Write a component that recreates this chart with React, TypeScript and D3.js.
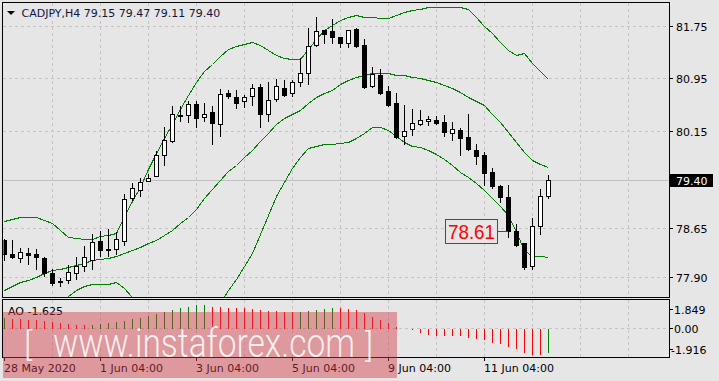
import React from 'react';
import * as d3 from 'd3';

// ---- Candles (CADJPY, H4) ----
const opens = [78.47, 78.26, 78.20, 78.27, 78.25, 78.19, 77.96, 77.84, 77.86, 77.97, 78.07, 78.16, 78.46, 78.33, 78.33, 78.46, 79.11, 79.24, 79.38, 79.46, 79.77, 79.99, 80.39, 80.39, 80.56, 80.36, 80.43, 80.25, 80.72, 80.66, 80.61, 80.68, 80.82, 80.40, 80.63, 80.81, 80.72, 80.89, 81.03, 81.46, 81.69, 81.68, 81.58, 81.49, 81.71, 81.46, 80.83, 81.01, 80.76, 80.57, 80.06, 80.17, 80.25, 80.30, 80.32, 80.28, 80.11, 80.16, 80.05, 79.86, 79.78, 79.52, 79.30, 79.13, 78.61, 78.42, 78.08, 78.69, 79.15];
const highs = [78.49, 78.47, 78.35, 78.35, 78.34, 78.21, 78.02, 77.89, 78.09, 78.21, 78.38, 78.56, 78.61, 78.64, 78.59, 79.18, 79.35, 79.42, 79.48, 79.83, 80.21, 80.52, 80.52, 80.60, 80.61, 80.57, 80.52, 80.79, 80.78, 80.78, 80.70, 80.87, 80.87, 80.90, 80.94, 80.93, 80.92, 81.26, 81.72, 81.89, 81.70, 81.86, 81.59, 81.70, 81.73, 81.55, 81.13, 81.10, 80.84, 80.72, 80.54, 80.48, 80.47, 80.38, 80.38, 80.39, 80.28, 80.19, 80.40, 79.94, 79.82, 79.58, 79.31, 79.32, 78.72, 78.43, 78.81, 79.26, 79.47];
const lows = [78.17, 78.20, 78.13, 78.11, 78.03, 77.92, 77.78, 77.77, 77.81, 77.88, 77.99, 78.02, 78.22, 78.22, 78.25, 78.40, 79.09, 79.14, 79.37, 79.45, 79.63, 79.98, 80.29, 80.28, 80.20, 80.29, 79.94, 80.06, 80.65, 80.49, 80.51, 80.55, 80.21, 80.29, 80.61, 80.68, 80.68, 80.84, 80.87, 81.45, 81.50, 81.49, 81.43, 81.44, 81.44, 80.81, 80.82, 80.71, 80.53, 80.04, 79.94, 80.09, 80.24, 80.24, 80.25, 80.06, 80.00, 79.77, 79.86, 79.64, 79.32, 79.27, 79.05, 78.52, 78.38, 78.03, 78.02, 78.57, 79.11];
const closes = [78.25, 78.21, 78.29, 78.24, 78.21, 77.97, 77.82, 77.83, 77.98, 78.07, 78.21, 78.44, 78.32, 78.32, 78.48, 79.10, 79.27, 79.36, 79.43, 79.78, 80.01, 80.40, 80.38, 80.56, 80.34, 80.41, 80.27, 80.71, 80.68, 80.58, 80.66, 80.81, 80.40, 80.62, 80.83, 80.70, 80.89, 81.03, 81.45, 81.68, 81.63, 81.58, 81.49, 81.69, 81.45, 80.82, 81.02, 80.72, 80.55, 80.05, 80.15, 80.26, 80.31, 80.33, 80.27, 80.13, 80.18, 80.04, 79.87, 79.76, 79.50, 79.30, 79.13, 78.61, 78.39, 78.06, 78.68, 79.14, 79.40];

// ---- Bollinger bands ----
const upperBand = [78.77, 78.80, 78.82, 78.83, 78.82, 78.78, 78.74, 78.63, 78.52, 78.50, 78.49, 78.49, 78.53, 78.55, 78.58, 78.84, 79.07, 79.29, 79.56, 79.81, 80.03, 80.25, 80.48, 80.70, 80.90, 81.06, 81.17, 81.29, 81.40, 81.45, 81.48, 81.51, 81.46, 81.39, 81.31, 81.27, 81.25, 81.25, 81.40, 81.56, 81.69, 81.77, 81.85, 81.89, 81.92, 81.90, 81.89, 81.88, 81.87, 81.93, 81.97, 82.00, 82.02, 82.04, 82.05, 82.05, 82.05, 82.05, 82.01, 81.90, 81.76, 81.64, 81.51, 81.39, 81.31, 81.34, 81.19, 81.07, 80.94];
const middleBand = [77.71, 77.77, 77.83, 77.86, 77.91, 77.96, 78.01, 78.03, 78.06, 78.09, 78.12, 78.16, 78.18, 78.20, 78.23, 78.27, 78.32, 78.36, 78.42, 78.47, 78.55, 78.63, 78.73, 78.83, 78.94, 79.11, 79.25, 79.40, 79.53, 79.63, 79.75, 79.86, 79.99, 80.12, 80.25, 80.35, 80.41, 80.47, 80.58, 80.67, 80.73, 80.78, 80.87, 80.93, 80.97, 81.00, 81.03, 81.03, 81.03, 81.01, 81.00, 80.97, 80.95, 80.93, 80.89, 80.85, 80.80, 80.74, 80.67, 80.61, 80.54, 80.41, 80.28, 80.13, 79.97, 79.82, 79.70, 79.64, 79.59];
const lowerBand = [76.65, 76.76, 76.84, 76.88, 76.99, 77.14, 77.28, 77.44, 77.61, 77.71, 77.77, 77.79, 77.80, 77.80, 77.83, 77.73, 77.60, 77.44, 77.27, 77.13, 77.08, 77.01, 76.98, 76.96, 76.98, 77.15, 77.33, 77.50, 77.70, 77.88, 78.08, 78.27, 78.56, 78.85, 79.15, 79.36, 79.58, 79.75, 79.88, 79.92, 79.94, 79.95, 79.96, 79.98, 80.03, 80.12, 80.20, 80.20, 80.16, 80.07, 79.98, 79.92, 79.90, 79.86, 79.79, 79.72, 79.63, 79.51, 79.44, 79.34, 79.24, 79.12, 78.99, 78.85, 78.59, 78.32, 78.22, 78.22, 78.21];

// ---- Awesome Oscillator ----
const aoBefore = 0.75;
const aoValues = [0.79, 0.72, 0.68, 0.63, 0.61, 0.56, 0.52, 0.45, 0.38, 0.29, 0.27, 0.29, 0.36, 0.41, 0.50, 0.56, 0.68, 0.79, 0.90, 1.01, 1.17, 1.31, 1.42, 1.51, 1.62, 1.64, 1.53, 1.52, 1.46, 1.44, 1.42, 1.40, 1.31, 1.26, 1.22, 1.19, 1.17, 1.19, 1.24, 1.31, 1.35, 1.44, 1.43, 1.35, 1.31, 1.13, 0.86, 0.63, 0.45, 0.18, 0.01, -0.07, -0.27, -0.41, -0.42, -0.43, -0.44, -0.46, -0.56, -0.63, -0.74, -0.90, -1.01, -1.19, -1.35, -1.58, -1.71, -1.72, -1.625];

// ---- Axes ----
const priceTicks = [81.75, 80.95, 80.15, 79.40, 78.65, 77.90];
const priceTickLabels = ['81.75', '80.95', '80.15', '79.40', '78.65', '77.90'];
const bidPrice = 79.40;
const markPrice = 78.61;
const markIndex = 63;
const aoMax = 1.849;
const aoMin = -1.916;
const timeLabelIndex = [0, 12, 24, 36, 48, 60];
const timeLabelText = ['28 May 2020', '1 Jun 04:00', '3 Jun 04:00', '5 Jun 04:00', '9 Jun 04:00', '11 Jun 04:00'];
const gridIndex = d3.range(6, 79, 6);

const BG = '#e6e6e6';
const GRID = '#c4c4c4';
const FONT = 'DejaVu Sans, Verdana, sans-serif';

export default function App() {
  const x = d3.scaleLinear().domain([0, 68]).range([4, 548]);
  const y = d3.scaleLinear().domain([77.9, 81.75]).range([277.3, 26.3]);
  const ya = d3.scaleLinear().domain([-2, 2]).range([357.9, 298.7]);
  const px = (i: number) => Math.round(x(i));
  const py = (v: number) => Math.round(y(v));

  const left = 3, right = 669, mainTop = 3, mainBottom = 297, aoTop = 299.5, aoBottom = 357;

  const bandLine = d3.line<number>().x((_, i) => px(i) + 0.5).y((d) => py(d) + 0.5);

  return (
    <svg width={719} height={381} style={{ position: 'absolute', left: 0, top: 0 }} fontFamily={FONT}>
      <defs>
        <clipPath id="mainClip">
          <rect x={left + 0.5} y={mainTop} width={right - left - 0.5} height={mainBottom - mainTop} />
        </clipPath>
        <clipPath id="aoClip">
          <rect x={left + 0.5} y={aoTop + 0.5} width={right - left - 0.5} height={aoBottom - aoTop - 0.5} />
        </clipPath>
      </defs>
      <rect x={0} y={0} width={719} height={381} fill={BG} />

      {/* main grid */}
      <g shapeRendering="crispEdges" stroke={GRID} strokeDasharray="3,3">
        {priceTicks.map((v, k) => (
          <line key={'h' + k} x1={left} x2={right} y1={py(v) + 0.5} y2={py(v) + 0.5} />
        ))}
        {gridIndex.map((i) => (
          <line key={'v' + i} x1={px(i) + 0.5} x2={px(i) + 0.5} y1={mainTop} y2={mainBottom} />
        ))}
        {gridIndex.map((i) => (
          <line key={'va' + i} x1={px(i) + 0.5} x2={px(i) + 0.5} y1={aoTop} y2={aoBottom} />
        ))}
        <line x1={left} x2={right} y1={Math.round(ya(0)) + 0.5} y2={Math.round(ya(0)) + 0.5} />
      </g>
      {/* bid line */}
      <line x1={left} x2={right} y1={py(bidPrice) + 0.5} y2={py(bidPrice) + 0.5} stroke="#c0c0c0" shapeRendering="crispEdges" />

      <g clipPath="url(#mainClip)">
        {[upperBand, middleBand, lowerBand].map((band, k) => (
          <path key={k} d={bandLine(band) || ''} fill="none" stroke="#008000" strokeWidth={1} shapeRendering="crispEdges" />
        ))}
        <g shapeRendering="crispEdges">
          {opens.map((o, i) => {
            const c = closes[i];
            const cx = px(i);
            const top = Math.min(py(o), py(c));
            const bot = Math.max(py(o), py(c));
            const bull = c >= o;
            return (
              <g key={i}>
                <line x1={cx + 0.5} x2={cx + 0.5} y1={py(highs[i])} y2={py(lows[i]) + 1} stroke="#000" />
                <rect x={cx - 2 + 0.5} y={top + 0.5} width={4} height={Math.max(bot - top, 1)} fill={bull ? '#fff' : '#000'} stroke="#000" />
              </g>
            );
          })}
        </g>
      </g>

      {/* 78.61 annotation */}
      <g>
        <line x1={497.5} x2={px(markIndex)} y1={py(markPrice) + 0.5} y2={py(markPrice) + 0.5} stroke="#ff0000" shapeRendering="crispEdges" />
        <rect x={445.5} y={py(markPrice) - 11.5} width={52} height={24} fill={BG} stroke="#ff0000" shapeRendering="crispEdges" />
        <text x={471.5} y={py(markPrice) + 8} textAnchor="middle" fill="#ff0000" fontSize={21} fontFamily="Liberation Sans, Arial, sans-serif" textLength={47} lengthAdjust="spacingAndGlyphs">
          {markPrice.toFixed(2)}
        </text>
      </g>

      {/* AO bars */}
      <g clipPath="url(#aoClip)" shapeRendering="crispEdges">
        {aoValues.map((v, i) => {
          const prev = i === 0 ? aoBefore : aoValues[i - 1];
          const col = v > prev ? '#008000' : '#ff0000';
          const z = Math.round(ya(0));
          const t = Math.round(ya(v));
          return <line key={i} x1={px(i) + 0.5} x2={px(i) + 0.5} y1={z + 0.5} y2={t + 0.5} stroke={col} />;
        })}
      </g>

      {/* frames */}
      <g fill="none" stroke="#000" shapeRendering="crispEdges">
        <rect x={left - 0.5} y={2.5} width={right - left + 0.5} height={mainBottom - 2} />
        <rect x={left - 0.5} y={aoTop} width={right - left + 0.5} height={aoBottom - aoTop} />
      </g>

      {/* price axis */}
      <g fontSize={11} fill="#000">
        {priceTicks.map((v, k) =>
          v === bidPrice ? null : (
            <g key={k}>
              <line x1={669} x2={673} y1={py(v) + 0.5} y2={py(v) + 0.5} stroke="#000" shapeRendering="crispEdges" />
              <text x={676} y={py(v) + 4.5}>{priceTickLabels[k]}</text>
            </g>
          )
        )}
        <rect x={670} y={py(bidPrice) - 6} width={43} height={13} fill="#000" />
        <text x={676} y={py(bidPrice) + 4.5} fill="#fff">{bidPrice.toFixed(2)}</text>
      </g>

      {/* AO axis */}
      <g fontSize={11} fill="#000">
        <line x1={669} x2={673} y1={Math.round(ya(aoMax)) + 8.5} y2={Math.round(ya(aoMax)) + 8.5} stroke="#000" shapeRendering="crispEdges" />
        <text x={674} y={Math.round(ya(aoMax)) + 12.5}>{aoMax.toFixed(3)}</text>
        <line x1={669} x2={673} y1={Math.round(ya(0)) + 0.5} y2={Math.round(ya(0)) + 0.5} stroke="#000" shapeRendering="crispEdges" />
        <text x={674} y={Math.round(ya(0)) + 4.5}>0.00</text>
        <line x1={669} x2={673} y1={Math.round(ya(aoMin)) - 7.5} y2={Math.round(ya(aoMin)) - 7.5} stroke="#000" shapeRendering="crispEdges" />
        <text x={671} y={Math.round(ya(aoMin)) - 3.5}>{aoMin.toFixed(3)}</text>
        <text x={8} y={315}>AO -1.625</text>
      </g>

      {/* time axis */}
      <g fontSize={11} fill="#000">
        {timeLabelIndex.map((i, k) => (
          <g key={k}>
            <line x1={px(i) + 0.5} x2={px(i) + 0.5} y1={aoBottom} y2={aoBottom + 4} stroke="#000" shapeRendering="crispEdges" />
            <text x={px(i)} y={372}>{timeLabelText[k]}</text>
          </g>
        ))}
      </g>

      {/* title */}
      <path d="M7,11 L15,11 L11,15 Z" fill="#000" />
      <text x={21.5} y={16.5} fontSize={11} fill="#14143c">CADJPY,H4  79.15 79.47 79.11 79.40</text>

      {/* watermark */}
      <rect x={3} y={312} width={394} height={66} fill="#d23c46" fillOpacity={0.45} />
      <g fill="#ffffff" fillOpacity={0.85} fontFamily="Roboto, Open Sans, sans-serif" fontWeight={300}>
        <text x={24} y={356} fontSize={34}>[</text>
        <text x={53} y={357} fontSize={41} textLength={302} lengthAdjust="spacingAndGlyphs">www.instaforex.com</text>
        <text x={365} y={357} fontSize={34}>]</text>
      </g>
    </svg>
  );
}
